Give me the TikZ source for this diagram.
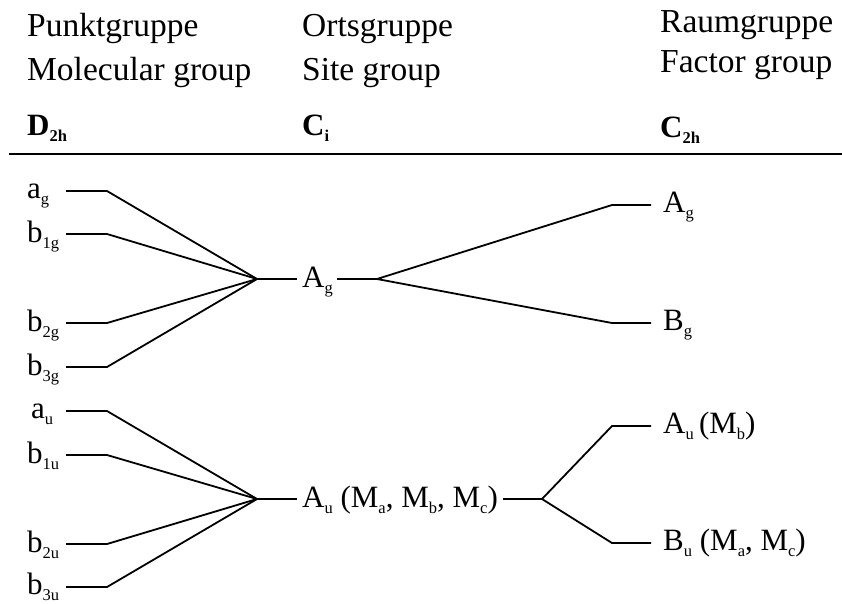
\documentclass[tikz,border=0pt]{standalone}
\usepackage{fontspec}
\setmainfont{Liberation Serif}

% symmetry label with a lowered small index
\newcommand{\irr}[2]{#1\raisebox{-6pt}{\fontsize{16.5}{16.5}\selectfont #2}}

\begin{document}
\begin{tikzpicture}[x=1pt,y=-1pt,
    every node/.style={font=\fontsize{31}{37}\selectfont, inner sep=0pt},
    lbl/.style={anchor=base west},
    head/.style={anchor=base west, font=\fontsize{33.5}{40}\selectfont},
    level/.style={line width=1.8pt, line join=miter}]
  \useasboundingbox (0,0) rectangle (842,603);

  % column heads
  \node[head] (pg) at (27,36) {Punktgruppe};
  \node[head] (mg) at (27,80) {Molecular group};
  \node[lbl] (D2h) at (27,135) {\bfseries\irr{D}{2h}};

  \node[head] (og) at (302,36) {Ortsgruppe};
  \node[head] (sg) at (302,80) {Site group};
  \node[lbl] (Ci) at (302,135) {\bfseries\irr{C}{i}};

  \node[head] (rg) at (660,32) {Raumgruppe};
  \node[head] (fg) at (660,72) {Factor group};
  \node[lbl] (C2h) at (660,137) {\bfseries\irr{C}{2h}};

  % rule under the heads
  \coordinate (r1) at (9,154);
  \coordinate (r2) at (842,154);
  \draw[line width=2.2pt] (r1) -- (r2);

  % gerade levels of D2h
  \coordinate (ag) at (66,191);   \coordinate (ag') at (107,191);
  \coordinate (b1g) at (66,234);  \coordinate (b1g') at (107,234);
  \coordinate (b2g) at (66,323);  \coordinate (b2g') at (107,323);
  \coordinate (b3g) at (66,367);  \coordinate (b3g') at (107,367);

  \node[lbl] (agl) at (27,198) {\irr{a}{g}};
  \node[lbl] (b1gl) at (27,242) {\irr{b}{1g}};
  \node[lbl] (b2gl) at (27,331) {\irr{b}{2g}};
  \node[lbl] (b3gl) at (27,375) {\irr{b}{3g}};

  % gerade level of Ci
  \coordinate (Jg) at (257,279);
  \coordinate (Jg') at (297,279);
  \node[lbl] (Agm) at (302,287) {\irr{A}{g}};
  \coordinate (Kg) at (337,279);
  \coordinate (Kg') at (377,279);

  % gerade levels of C2h
  \coordinate (Ag) at (612,205);  \coordinate (Ag') at (651,205);
  \coordinate (Bg) at (612,323);  \coordinate (Bg') at (651,323);
  \node[lbl] (Agr) at (663,212) {\irr{A}{g}};
  \node[lbl] (Bgr) at (663,330) {\irr{B}{g}};

  \draw[level] (ag) -- (ag') -- (Jg);
  \draw[level] (b1g) -- (b1g') -- (Jg);
  \draw[level] (b2g) -- (b2g') -- (Jg);
  \draw[level] (b3g) -- (b3g') -- (Jg);
  \draw[level] (Jg) -- (Jg');
  \draw[level] (Ag') -- (Ag) -- (Kg') -- (Bg) -- (Bg');
  \draw[level] (Kg) -- (Kg');

  % ungerade levels of D2h
  \coordinate (au) at (66,411);   \coordinate (au') at (107,411);
  \coordinate (b1u) at (66,455);  \coordinate (b1u') at (107,455);
  \coordinate (b2u) at (66,544);  \coordinate (b2u') at (107,544);
  \coordinate (b3u) at (66,587);  \coordinate (b3u') at (107,587);

  \node[lbl] (aul) at (31,418) {\irr{a}{u}};
  \node[lbl] (b1ul) at (27,463) {\irr{b}{1u}};
  \node[lbl] (b2ul) at (27,552) {\irr{b}{2u}};
  \node[lbl] (b3ul) at (27,594) {\irr{b}{3u}};

  % ungerade level of Ci
  \coordinate (Ju) at (257,499);
  \coordinate (Ju') at (297,499);
  \node[lbl] (Aum) at (302,507) {\irr{A}{u} (\irr{M}{a}, \irr{M}{b}, \irr{M}{c})};
  \coordinate (Ku) at (503,499);
  \coordinate (Ku') at (542,499);

  % ungerade levels of C2h
  \coordinate (Au) at (612,426);  \coordinate (Au') at (651,426);
  \coordinate (Bu) at (612,543);  \coordinate (Bu') at (651,543);
  \node[lbl] (Aur) at (663,433) {\irr{A}{u}\,(\irr{M}{b})};
  \node[lbl] (Bur) at (663,550) {\irr{B}{u} (\irr{M}{a}, \irr{M}{c})};

  \draw[level] (au) -- (au') -- (Ju);
  \draw[level] (b1u) -- (b1u') -- (Ju);
  \draw[level] (b2u) -- (b2u') -- (Ju);
  \draw[level] (b3u) -- (b3u') -- (Ju);
  \draw[level] (Ju) -- (Ju');
  \draw[level] (Au') -- (Au) -- (Ku') -- (Bu) -- (Bu');
  \draw[level] (Ku) -- (Ku');
\end{tikzpicture}
\end{document}
